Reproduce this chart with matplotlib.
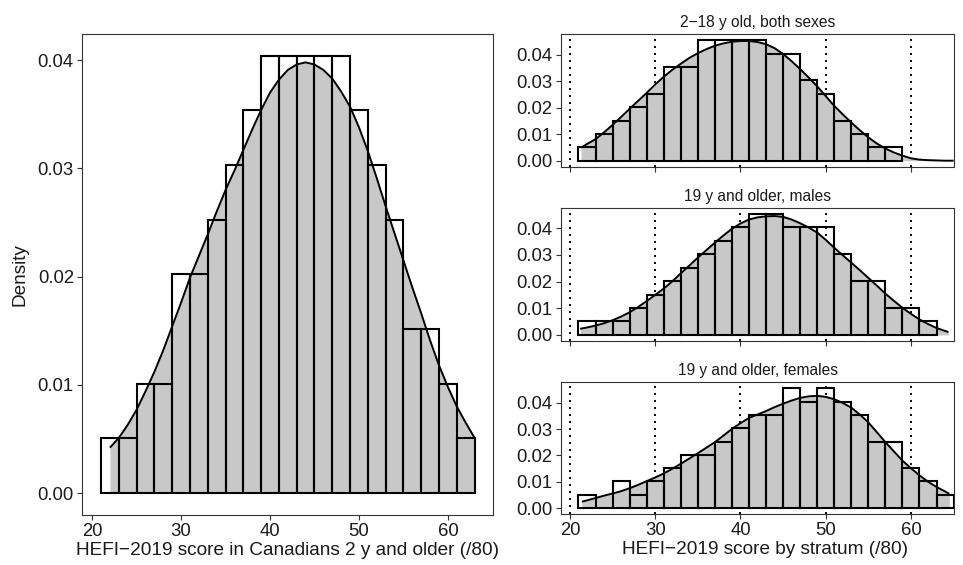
import numpy as np
import matplotlib
matplotlib.use("Agg")
import matplotlib.pyplot as plt

plt.rcParams['font.family'] = ['Liberation Sans', 'DejaVu Sans']

# ---------------- data ----------------
bin_edges_left = list(range(21, 64, 2))          # 21..63
counts_all = [1, 1, 2, 2, 4, 4, 5, 6, 7, 8, 8, 8, 8, 8, 7, 6, 5, 3, 3, 2, 1]

curve_all_x = [22, 23, 24, 25, 26, 27, 28, 29, 30, 31, 32, 33, 34, 35, 36, 37, 38, 39, 40, 41, 42,
               43, 44, 45, 46, 47, 48, 49, 50, 51, 52, 53, 54, 55, 56, 57, 58, 59, 60, 61, 62, 63]
curve_all_y = [0.0042, 0.0051, 0.0063, 0.0077, 0.0094, 0.0112, 0.0132, 0.0154, 0.0176, 0.0199,
               0.0219, 0.0239, 0.0260, 0.0280, 0.0298, 0.0317, 0.0336, 0.0354, 0.0370, 0.0382,
               0.0391, 0.0396, 0.0398, 0.0396, 0.0391, 0.0383, 0.0371, 0.0357, 0.0338, 0.0316,
               0.0291, 0.0265, 0.0240, 0.0215, 0.0190, 0.0166, 0.0141, 0.0118, 0.0098, 0.0080,
               0.0065, 0.0051]

strata_titles = ["2\u221218 y old, both sexes", "19 y and older, males", "19 y and older, females"]

edges_kids = list(range(21, 60, 2))      # 21..59
counts_kids = [1, 2, 3, 4, 5, 7, 7, 9, 9, 9, 9, 8, 8, 6, 5, 3, 2, 1, 1]
curve_kids_x = [21.3, 22, 23, 24, 25, 26, 27, 28, 29, 30, 31, 32, 33, 34, 35, 36, 37, 38, 39, 40, 41,
                42, 43, 44, 45, 46, 47, 48, 49, 50, 51, 52, 53, 54, 55, 56, 57, 58, 59, 60, 61,
                62, 63, 64, 65]
curve_kids_y = [0.0049, 0.0063, 0.0081, 0.0107, 0.0135, 0.0165, 0.0196, 0.0226, 0.0256, 0.0288,
                0.0317, 0.0343, 0.0366, 0.0388, 0.0406, 0.0421, 0.0434, 0.0443, 0.0449, 0.0452,
                0.0452, 0.0448, 0.0440, 0.0425, 0.0403, 0.0376, 0.0346, 0.0314, 0.0281, 0.0244,
                0.0207, 0.0175, 0.0144, 0.0115, 0.0088, 0.0065, 0.0046, 0.0031, 0.0019, 0.0009,
                0.0004, 0.0002, 0.0001, 0.0, 0.0]

edges_males = list(range(21, 64, 2))     # 21..63
counts_males = [1, 1, 1, 2, 3, 4, 5, 6, 7, 8, 9, 9, 8, 8, 8, 6, 4, 4, 2, 2, 1]
curve_males_x = [21.2, 22, 23, 24, 25, 26, 27, 28, 29, 30, 31, 32, 33, 34, 35, 36, 37, 38, 39, 40,
                 41, 42, 43, 44, 45, 46, 47, 48, 49, 50, 51, 52, 53, 54, 55, 56, 57, 58, 59, 60,
                 61, 62, 63, 64, 64.4]
curve_males_y = [0.0023, 0.0028, 0.0035, 0.0044, 0.0055, 0.0069, 0.0085, 0.0105, 0.0127, 0.0150,
                 0.0174, 0.0201, 0.0231, 0.0260, 0.0290, 0.0318, 0.0346, 0.0373, 0.0398, 0.0418,
                 0.0433, 0.0441, 0.0445, 0.0446, 0.0443, 0.0433, 0.0419, 0.0403, 0.0384, 0.0357,
                 0.0327, 0.0299, 0.0271, 0.0243, 0.0214, 0.0185, 0.0155, 0.0128, 0.0102, 0.0079,
                 0.0058, 0.0041, 0.0026, 0.0015, 0.0011]

edges_females = list(range(21, 66, 2))   # 21..65
counts_females = [1, 0, 2, 1, 2, 3, 4, 4, 5, 6, 7, 7, 9, 8, 9, 8, 7, 5, 5, 3, 2, 1]
curve_females_x = [21.4, 22, 23, 24, 25, 26, 27, 28, 29, 30, 31, 32, 33, 34, 35, 36, 37, 38, 39, 40,
                   41, 42, 43, 44, 45, 46, 47, 48, 49, 50, 51, 52, 53, 54, 55, 56, 57, 58, 59, 60,
                   61, 62, 63, 64, 64.5]
curve_females_y = [0.0024, 0.0029, 0.0038, 0.0047, 0.0055, 0.0064, 0.0075, 0.0088, 0.0102, 0.0116,
                   0.0131, 0.0149, 0.0168, 0.0188, 0.0208, 0.0229, 0.0250, 0.0275, 0.0300, 0.0322,
                   0.0342, 0.0355, 0.0368, 0.0383, 0.0396, 0.0408, 0.0418, 0.0424, 0.0426, 0.0422,
                   0.0413, 0.0399, 0.0381, 0.0355, 0.0325, 0.0288, 0.0250, 0.0215, 0.0180, 0.0151,
                   0.0124, 0.0100, 0.0080, 0.0063, 0.0054]

x_ticks = [20, 30, 40, 50, 60]
guide_lines = [20, 30, 40, 50, 60]
left_yticks = [0.00, 0.01, 0.02, 0.03, 0.04]
right_yticks = [0.00, 0.01, 0.02, 0.03, 0.04]

# ---------------- style ----------------
GREY = "#c8c8c8"
FRAME = "#333333"
TXT = "#1a1a1a"
FS_TICK = 13.3
FS_LAB = 13.7
FS_STRIP = 11.2

W, H = 963, 565
fig = plt.figure(figsize=(W / 100, H / 100), dpi=100)


def px_axes(x0, y0, x1, y1):
    return fig.add_axes([x0 / W, 1 - y1 / H, (x1 - x0) / W, (y1 - y0) / H])


def style(ax):
    for s in ax.spines.values():
        s.set_color(FRAME)
        s.set_linewidth(0.8)
    ax.tick_params(direction='out', length=3.6, width=0.8, color=FRAME,
                   labelsize=FS_TICK, labelcolor=TXT, pad=2.5)


def draw_hist(ax, edges, counts, cx, cy):
    centers = [(edges[i] + edges[i + 1]) / 2 for i in range(len(counts))]
    ax.fill_between(cx, cy, 0, color=GREY, lw=0, zorder=2)
    ax.hist(centers, bins=edges, weights=counts, density=True, histtype='bar',
            fill=False, edgecolor='black', linewidth=1.5, zorder=3)
    ax.plot(cx, cy, color='black', lw=1.4, zorder=4, solid_capstyle='butt')


# left panel
axL = px_axes(82.3, 34, 493.3, 515)
style(axL)
draw_hist(axL, bin_edges_left, counts_all, curve_all_x, curve_all_y)
axL.set_xlim(18.9, 65.1)
axL.set_ylim(-0.00202, 0.04242)
axL.set_xticks(x_ticks)
axL.set_yticks(left_yticks)
axL.set_yticklabels([f"{v:.2f}" for v in left_yticks])
axL.set_ylabel("Density", fontsize=FS_LAB, color=TXT)
axL.yaxis.set_label_coords((28.5 - 82.3) / 411, 0.5)
axL.set_xlabel("HEFI\u22122019 score in Canadians 2 y and older (/80)", fontsize=FS_LAB,
               color=TXT, labelpad=1)

# right panels
panels = [
    (34.3, 166.7, edges_kids, counts_kids, curve_kids_x, curve_kids_y),
    (207.7, 341.0, edges_males, counts_males, curve_males_x, curve_males_y),
    (382.3, 514.0, edges_females, counts_females, curve_females_x, curve_females_y),
]
for i, (y0, y1, ed, ct, cx, cy) in enumerate(panels):
    ax = px_axes(561, y0, 954, y1)
    style(ax)
    for g in guide_lines:
        ax.axvline(g, color='black', lw=1.4, linestyle=(0, (1, 2.6)), zorder=1)
    draw_hist(ax, ed, ct, cx, cy)
    ax.set_xlim(18.95, 65.05)
    ax.set_ylim(-0.00227, 0.04773)
    ax.set_xticks(x_ticks)
    ax.set_yticks(right_yticks)
    ax.set_yticklabels([f"{v:.2f}" for v in right_yticks])
    ax.set_title(strata_titles[i], fontsize=FS_STRIP, color=TXT, pad=5)
    if i < 2:
        ax.tick_params(labelbottom=False)
    else:
        ax.set_xlabel("HEFI\u22122019 score by stratum (/80)", fontsize=FS_LAB,
                      color=TXT, labelpad=1)
        ax.xaxis.set_label_coords((764.5 - 561) / 393, -0.205)

fig.savefig("out.png", dpi=100)
